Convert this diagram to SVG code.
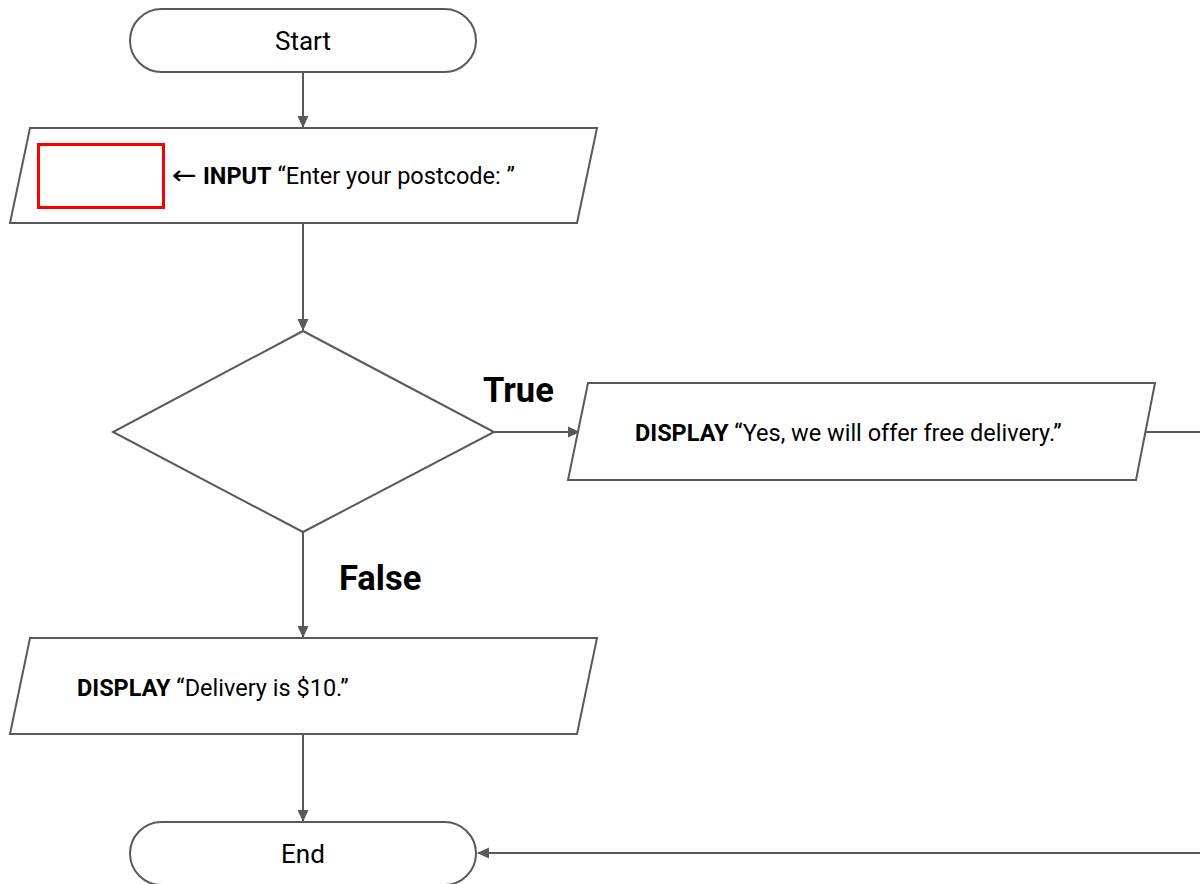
<svg xmlns="http://www.w3.org/2000/svg" width="1200" height="884" viewBox="0 0 1200 884">
<style>
.shape{fill:#fff;stroke:#595959;stroke-width:2}
.conn{fill:none;stroke:#595959;stroke-width:2}
.t{font-family:Roboto,"Liberation Sans",sans-serif;font-size:23.5px;fill:#000}
.term{font-family:Roboto,"Liberation Sans",sans-serif;font-size:26px;fill:#000}
.b{font-weight:bold}
.lbl{font-family:Roboto,"Liberation Sans",sans-serif;font-size:34.5px;font-weight:bold;fill:#000}
</style>
<defs>
<marker id="arr" markerWidth="12" markerHeight="12" refX="11" refY="6" orient="auto" markerUnits="userSpaceOnUse">
<path d="M0,0.5 L12,6 L0,11.5 Z" fill="#595959"/>
</marker>
</defs>
<g id="connectors">
<path class="conn" d="M303,72 V127" marker-end="url(#arr)"/>
<path class="conn" d="M303,223 V330" marker-end="url(#arr)"/>
<path class="conn" d="M494,432 H579" marker-end="url(#arr)"/>
<path class="conn" d="M303,532 V637" marker-end="url(#arr)"/>
<path class="conn" d="M303,734 V821" marker-end="url(#arr)"/>
<path class="conn" d="M1146,432 H1210 V853 H478" marker-end="url(#arr)"/>
</g>
<g id="start">
<rect class="shape" x="130" y="9" width="346" height="63" rx="31.5"/>
<text class="term" x="303" y="50" text-anchor="middle">Start</text>
</g>
<g id="input">
<polygon class="shape" points="30,128 597,128 577,223 10,223"/>
<rect x="38.5" y="144.5" width="125" height="63" fill="none" stroke="#ff0000" stroke-width="3"/>
<text x="172" y="184" font-family="'DejaVu Sans',sans-serif" font-size="26" fill="#000" textLength="25" lengthAdjust="spacingAndGlyphs">←</text>
<text class="t" x="203" y="184"><tspan class="b">INPUT</tspan> “Enter your postcode: ”</text>
</g>
<g id="decision">
<polygon class="shape" points="303,331 494,432 303,532 113,432"/>
</g>
<g id="label-true"><text class="lbl" x="483" y="402">True</text></g>
<g id="label-false"><text class="lbl" x="339" y="590">False</text></g>
<g id="display-yes">
<polygon class="shape" points="588,383 1155,383 1136,480 568,480"/>
<text class="t" x="635" y="441"><tspan class="b">DISPLAY</tspan> “Yes, we will offer free delivery.”</text>
</g>
<g id="display-no">
<polygon class="shape" points="30,638 597,638 577,734 10,734"/>
<text class="t" x="77" y="696"><tspan class="b">DISPLAY</tspan> “Delivery is $10.”</text>
</g>
<g id="end">
<rect class="shape" x="130" y="822" width="346" height="63" rx="31.5"/>
<text class="term" x="303" y="863" text-anchor="middle">End</text>
</g>
</svg>
